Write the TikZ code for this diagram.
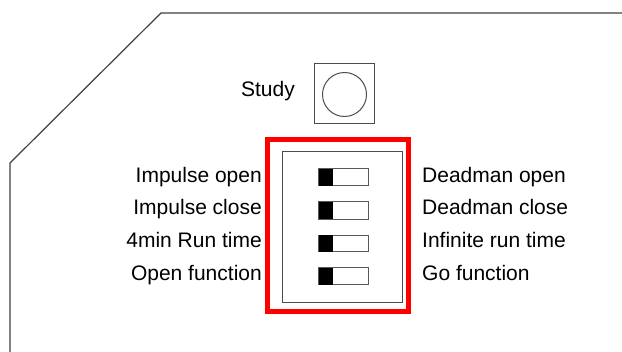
\documentclass[tikz,border=0pt]{standalone}
\usepackage{fontspec}
\setmainfont{Liberation Sans}
\begin{document}
\begin{tikzpicture}[x=1pt,y=-1pt,
        outline/.style={draw=black!75, line width=1.2pt},
        frame/.style={draw=black!70, line width=1pt},
        slider/.style={draw=black!65, line width=1pt, fill=white},
        knob/.style={fill=black},
        lbl/.style={font=\fontsize{21}{24}\selectfont, inner sep=0pt}]
            \useasboundingbox (0,0) rectangle (622,352);

            % Draw the housing outline
            \draw[outline] (10,352) -- (10,163) -- (161,13) -- (622,13);

            % Draw the study button
            \draw[frame] (314,64) rectangle (374,124);
            \draw[frame] (344.5,94.5) circle [radius=22];
            \node[lbl, anchor=base east] (study) at (295,97) {Study};

            % Draw the highlight and the switch block
            \draw[red, line width=5pt] (267.5,140) rectangle (408,311.5);
            \draw[frame] (282,152) rectangle (402,302.5);

            % Draw the four sliders
            \draw[slider] (318.5,169) rectangle (368.5,186);
            \fill[knob] (318.5,169) rectangle (332.5,186);
            \draw[slider] (318.5,202) rectangle (368.5,219.5);
            \fill[knob] (318.5,202) rectangle (332.5,219.5);
            \draw[slider] (318.5,235.5) rectangle (368.5,252);
            \fill[knob] (318.5,235.5) rectangle (332.5,252);
            \draw[slider] (318.5,268) rectangle (368.5,285);
            \fill[knob] (318.5,268) rectangle (332.5,285);

            % Labels on the left
            \node[lbl, anchor=base east] (impopen) at (262,182.5) {Impulse open};
            \node[lbl, anchor=base east] (impclose) at (262,215) {Impulse close};
            \node[lbl, anchor=base east] (runtime) at (262,248) {4min Run time};
            \node[lbl, anchor=base east] (openfn) at (262,281) {Open function};

            % Labels on the right
            \node[lbl, anchor=base west] (dmopen) at (422,182.5) {Deadman open};
            \node[lbl, anchor=base west] (dmclose) at (422,215) {Deadman close};
            \node[lbl, anchor=base west] (infinite) at (422,248) {Infinite run time};
            \node[lbl, anchor=base west] (gofn) at (422,281) {Go function};

        \end{tikzpicture}
\end{document}
